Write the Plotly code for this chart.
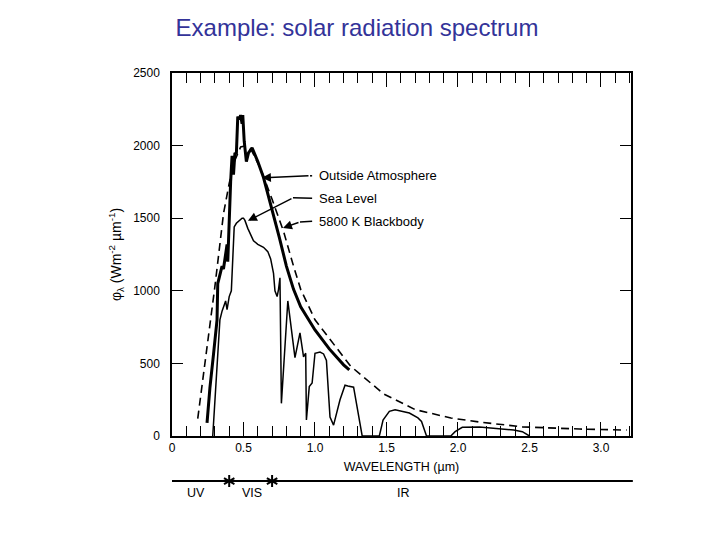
import plotly.graph_objects as go

# ---------------- data ----------------
# 5800 K blackbody (dashed)
BB_WL = [0.18, 0.21, 0.24, 0.27, 0.30, 0.33, 0.36, 0.40, 0.44, 0.48, 0.52, 0.56,
         0.62, 0.70, 0.78, 0.85, 0.90, 1.00, 1.13, 1.25, 1.48, 1.70, 1.95, 2.15,
         2.45, 2.85, 3.18]
BB_VAL = [120, 340, 560, 800, 1030, 1280, 1530, 1740, 1900, 1990, 2000, 1960,
          1840, 1630, 1410, 1170, 1010, 800, 630, 480, 290, 182, 124, 96,
          63, 48, 41]

# Outside atmosphere (thick)
OA_WL = [0.245, 0.265, 0.29, 0.315, 0.32, 0.335, 0.35, 0.36, 0.375, 0.385, 0.39,
         0.40, 0.41, 0.42, 0.43, 0.44, 0.45, 0.46, 0.47, 0.48, 0.49, 0.495,
         0.505, 0.52, 0.535, 0.56, 0.60, 0.64, 0.70, 0.75, 0.80, 0.85, 0.90,
         1.00, 1.10, 1.20, 1.24]
OA_VAL = [90, 330, 560, 800, 1050, 1120, 1170, 1150, 1240, 1320, 1200,
          1500, 1750, 1930, 1800, 1950, 1940, 2200, 2180, 2210, 2150, 2210,
          2030, 1890, 1950, 1985, 1890, 1780, 1560, 1370, 1170, 1010, 890,
          730, 600, 490, 455]

# Sea level (thin)
SL_WL = [0.285, 0.30, 0.31, 0.32, 0.335, 0.35, 0.365, 0.375, 0.385, 0.40, 0.415,
         0.425, 0.435, 0.45, 0.47, 0.49, 0.50, 0.51, 0.53, 0.57, 0.60, 0.64,
         0.67, 0.69, 0.71, 0.72, 0.735, 0.745, 0.755, 0.765, 0.81, 0.86, 0.895,
         0.92, 0.935, 0.94, 0.96, 0.98, 1.00, 1.035, 1.06, 1.08, 1.105, 1.13,
         1.175, 1.21, 1.23, 1.27, 1.33, 1.45, 1.476, 1.52, 1.56, 1.66, 1.72,
         1.745, 1.78, 1.95, 1.98, 2.03, 2.15, 2.39, 2.45, 2.50]
SL_VAL = [0, 230, 400, 600, 800, 860, 900, 930, 870, 960, 1000,
          1200, 1440, 1465, 1480, 1500, 1500, 1485, 1430, 1345, 1320, 1300,
          1270, 1220, 1120, 1000, 960, 1010, 1090, 225, 930, 540, 710,
          545, 570, 110, 340, 365, 570, 578, 565, 520, 130, 75,
          250, 350, 345, 336, 0, 0, 110, 170, 180, 158, 125,
          100, 0, 0, 30, 60, 62, 41, 30, 0]

X_TICKS = [0, 0.5, 1.0, 1.5, 2.0, 2.5, 3.0]
X_TICK_TEXT = ["0", "0.5", "1.0", "1.5", "2.0", "2.5", "3.0"]
Y_TICKS = [0, 500, 1000, 1500, 2000, 2500]

BAND_EDGES = [0.4, 0.7]
BAND_LABELS = ["UV", "VIS", "IR"]
BAND_LABEL_POS = [0.167, 0.56, 1.62]

SERIES_NAMES = ["Outside Atmosphere", "Sea Level", "5800 K Blackbody"]

# ---------------- layout constants ----------------
X_RANGE = [0, 3.21]
Y_RANGE = [0, 2500]
FONT = "Liberation Sans, Arial, Helvetica, sans-serif"
BAR_Y = -0.124      # paper units for the band bar
BAND_TEXT_Y = -0.157

fig = go.Figure()

fig.add_trace(go.Scatter(x=BB_WL, y=BB_VAL, mode="lines", name=SERIES_NAMES[2],
                         line=dict(color="black", width=1.6, dash="8px,5px")))
fig.add_trace(go.Scatter(x=SL_WL, y=SL_VAL, mode="lines", name=SERIES_NAMES[1],
                         line=dict(color="black", width=1.5)))
fig.add_trace(go.Scatter(x=OA_WL, y=OA_VAL, mode="lines", name=SERIES_NAMES[0],
                         line=dict(color="black", width=3)))

shapes = [dict(type="line", xref="x domain", yref="paper", x0=0, x1=1.004,
               y0=BAR_Y, y1=BAR_Y, line=dict(color="black", width=2))]

# asterisks at the band edges (pixel-sized strokes anchored to the wavelength)
for edge in BAND_EDGES:
    for dx, dy in [(0, 6), (5.2, 3), (-5.2, 3)]:
        shapes.append(dict(type="line", xref="x", yref="paper",
                           xsizemode="pixel", ysizemode="pixel",
                           xanchor=edge, yanchor=BAR_Y,
                           x0=-dx, x1=dx, y0=-dy, y1=dy,
                           line=dict(color="black", width=2)))

annotations = []
for lab, pos in zip(BAND_LABELS, BAND_LABEL_POS):
    annotations.append(dict(x=pos, y=BAND_TEXT_Y, xref="x", yref="paper",
                            text=lab, showarrow=False, yanchor="middle",
                            font=dict(size=12.5, color="black", family=FONT)))

# curve labels with arrows
TEXT_X = 1.014
lab_y = [1792, 1637, 1479]
tips = [(0.629, 1778), (0.531, 1482), (0.776, 1433)]
bends = [(0.965, 1792), (0.846, 1640), (0.895, 1474)]
for name, ty, (tx, tyy), (bx, by) in zip(SERIES_NAMES, lab_y, tips, bends):
    annotations.append(dict(x=TEXT_X, y=ty, xref="x", yref="y", text=name,
                            showarrow=False, xanchor="left",
                            font=dict(size=13, color="black", family=FONT)))
    annotations.append(dict(x=tx, y=tyy, xref="x", yref="y", ax=bx, ay=by,
                            axref="x", ayref="y", text="", showarrow=True,
                            arrowhead=2, arrowsize=1.2, arrowwidth=1.5,
                            arrowcolor="black"))
    shapes.append(dict(type="line", xref="x", yref="y", x0=bx, y0=by,
                       x1=0.98, y1=ty, line=dict(color="black", width=1.5)))

# The page adds an 8px body margin, so offsets are reduced by 8px here.
fig.update_layout(
    width=720, height=540,
    margin=dict(l=164, r=97, t=65, b=112, autoexpand=False),
    paper_bgcolor="white", plot_bgcolor="white",
    showlegend=False,
    font=dict(family=FONT, color="black", size=12),
    title=dict(text="Example: solar radiation spectrum", x=349 / 720, xanchor="center",
               y=1 - 20 / 540, yanchor="middle", yref="container",
               font=dict(size=24, color="#333399", family=FONT)),
    shapes=shapes,
    annotations=annotations,
)

fig.update_xaxes(range=X_RANGE, tickvals=X_TICKS, ticktext=X_TICK_TEXT,
                 ticks="inside", ticklen=14, tickwidth=1.2, tickcolor="black",
                 showline=True, linecolor="black", linewidth=1.5, mirror="ticks",
                 showgrid=False, zeroline=False, automargin=False,
                 minor=dict(dtick=0.1, tick0=0, ticks="inside", ticklen=10,
                            tickwidth=1.2, tickcolor="black", showgrid=False),
                 tickfont=dict(size=12, family=FONT, color="black"),
                 title=dict(text="WAVELENGTH (µm)", standoff=8,
                            font=dict(size=12.5, family=FONT, color="black")))
fig.update_yaxes(range=Y_RANGE, tickvals=Y_TICKS,
                 ticks="inside", ticklen=11, tickwidth=1.2, tickcolor="black",
                 showline=True, linecolor="black", linewidth=1.5, mirror="ticks",
                 showgrid=False, zeroline=False, automargin=False,
                 ticklabelstandoff=8,
                 tickfont=dict(size=12, family=FONT, color="black"),
                 title=dict(text="φ<sub>λ</sub> (Wm<sup>-2</sup> µm<sup>-1</sup>)",
                            standoff=8,
                            font=dict(size=14, family=FONT, color="black")))

fig.write_html("out.html")
